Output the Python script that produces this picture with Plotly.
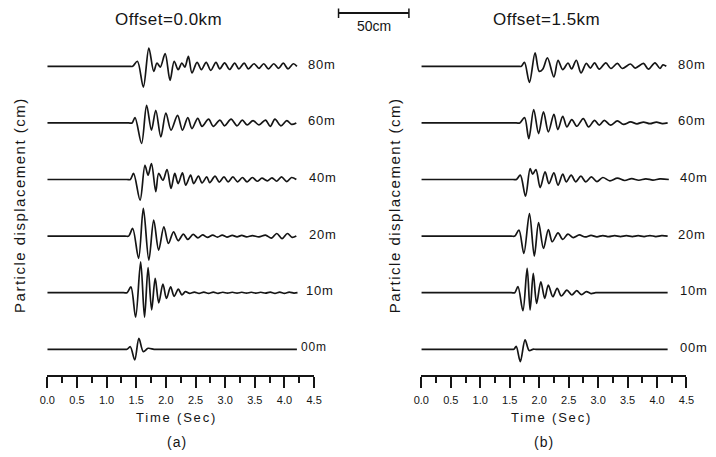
import plotly.graph_objects as go

# ---------------- data ----------------
depths = ["80m", "60m", "40m", "20m", "10m", "00m"]

# Panel (a): Offset = 0.0 km  -- times (s) and displacement (cm) of the wiggles
a_80_t = [0, 1.38, 1.44, 1.52, 1.62, 1.713, 1.795, 1.85, 1.906, 1.988, 2.07, 2.14, 2.207, 2.27, 2.32, 2.38, 2.44, 2.526, 2.60, 2.68, 2.757,
          2.845, 2.91, 2.99, 3.075, 3.16, 3.23, 3.32, 3.39, 3.487, 3.57, 3.65, 3.73, 3.82, 3.90, 3.98, 4.06, 4.15, 4.21]
a_80_v = [0, 0, 0, 3.5, -14.4, 12.7, -3.5, 2.3, -0.5, 8.8, -9.7, 3.5, -2.3, 2.3, -0.5, 6.9, -4.6, 2.8, -2.3, 2.8, -2.8,
          2.8, -1.8, 2.4, -2.2, 2.2, -1.8, 2.2, -1.8, 1.8, -1.4, 1.8, -1.8, 1.8, -1.4, 2.2, -1.8, 1.8, 0]
a_60_t = [0, 1.37, 1.43, 1.48, 1.59, 1.675, 1.757, 1.83, 1.915, 2.0, 2.087, 2.197, 2.28, 2.37, 2.44, 2.537, 2.61, 2.72, 2.80, 2.91, 2.99,
          3.10, 3.20, 3.29, 3.37, 3.47, 3.57, 3.68, 3.76, 3.84, 3.94, 4.04, 4.12, 4.2]
a_60_v = [0, 0, 0, 3.7, -14.3, 12.2, -5.0, 8.8, -9.7, 6.9, -5.0, 5.3, -5.0, 3.7, -3.9, 3.2, -2.4, 2.6, -2.4, 2.0, -2.0,
          2.6, -2.0, 2.0, -1.4, 1.6, -1.4, 2.0, -2.4, 2.6, -2.0, 1.6, -1.0, 0]
a_40_t = [0, 1.34, 1.40, 1.455, 1.565, 1.647, 1.70, 1.757, 1.83, 1.878, 1.95, 2.02, 2.087, 2.15, 2.207, 2.28, 2.335, 2.417, 2.47, 2.55, 2.61,
          2.69, 2.74, 2.83, 2.90, 2.98, 3.05, 3.13, 3.21, 3.29, 3.37, 3.46, 3.54, 3.62, 3.71, 3.79, 3.87, 3.95, 4.04, 4.12, 4.2]
a_40_v = [0, 0, 0, 4.2, -14.3, 9.9, 3.0, 11.1, -8.5, 4.2, -0.5, 6.9, -6.2, 4.2, -2.8, 4.6, -3.9, 3.0, -2.8, 2.3, -2.3,
          1.8, -2.1, 2.3, -1.8, 1.8, -1.6, 1.8, -1.6, 1.4, -1.6, 1.4, -1.2, 0.9, -0.9, 1.2, -1.2, 1.8, -1.4, 1.4, 0]
a_20_t = [0, 1.31, 1.373, 1.44, 1.54, 1.62, 1.713, 1.795, 1.878, 1.966, 2.043, 2.13, 2.207, 2.295, 2.37, 2.46, 2.54, 2.62, 2.70, 2.79, 2.87,
          2.95, 3.03, 3.12, 3.20, 3.28, 3.36, 3.46, 3.57, 3.68, 3.78, 3.87, 3.96, 4.05, 4.13, 4.2]
a_20_v = [0, 0, 0, 5.3, -15.4, 19.2, -16.7, 11.1, -9.7, 6.5, -5.1, 3.0, -3.2, 1.4, -2.3, 1.2, -1.2, 0.9, -0.9, 0.7, -0.7,
          0.7, -0.7, 0.5, -0.5, 0.5, -0.5, 0.3, -0.5, 0.7, -1.4, 1.8, -1.8, 1.8, -0.9, 0]
a_10_t = [0, 1.285, 1.345, 1.41, 1.49, 1.575, 1.64, 1.70, 1.76, 1.82, 1.88, 1.95, 2.01, 2.08, 2.14, 2.21, 2.27, 2.33, 2.40, 2.48, 2.56,
          2.64, 2.72, 2.80, 2.88, 2.96, 3.04, 3.12, 3.20, 3.28, 3.36, 3.44, 3.52, 3.60, 3.68, 3.76, 3.84, 3.92, 4.00, 4.08, 4.16, 4.22]
a_10_v = [0, 0, 0, 4.0, -17.0, 21.5, -17.0, 17.5, -12.0, 10.0, -7.0, 6.0, -4.0, 4.0, -2.5, 2.5, -1.5, 0.7, -0.5, 0.4, -0.4,
          0.4, -0.4, 0.4, -0.4, 0.3, -0.3, 0.3, -0.3, 0.3, -0.3, 0.3, -0.3, 0.3, -0.3, 0.4, -0.4, 0.4, -0.4, 0.4, -0.3, 0]
a_00_t = [0, 1.285, 1.345, 1.40, 1.475, 1.545, 1.62, 1.70, 1.80, 1.87, 4.21]
a_00_v = [0, 0, 0, 1.8, -7.4, 7.6, -1.6, 0.7, 0, 0, 0]

# Panel (b): Offset = 1.5 km
b_80_t = [0, 1.64, 1.697, 1.75, 1.835, 1.93, 2.0, 2.06, 2.14, 2.25, 2.32, 2.40, 2.49, 2.55, 2.63, 2.71, 2.80, 2.87, 2.94, 3.02, 3.13,
          3.216, 3.327, 3.41, 3.55, 3.63, 3.77, 3.854, 3.965, 4.05, 4.1, 4.157]
b_80_v = [0, 0, 0, 2.8, -11.1, 9.3, -3.5, -2.0, 5.8, -7.4, 4.2, -2.3, 2.3, -1.8, 4.2, -4.6, 2.0, -1.2, 2.4, -2.0, 2.4,
          -1.5, 2.0, -1.5, 1.6, -1.2, 2.0, -2.0, 2.4, -1.5, 1.0, 0]
b_60_t = [0, 1.61, 1.67, 1.752, 1.824, 1.907, 1.99, 2.073, 2.156, 2.25, 2.317, 2.40, 2.47, 2.554, 2.64, 2.748, 2.84, 2.94, 3.02, 3.106, 3.21,
          3.327, 3.43, 3.55, 3.66, 3.77, 3.88, 3.99, 4.09, 4.18]
b_60_v = [0, 0, 0, 3.7, -10.9, 9.3, -7.4, 7.6, -6.2, 6.0, -4.6, 4.6, -2.8, 2.3, -2.3, 3.0, -2.8, 1.8, -1.6, 1.8, -1.6,
          1.4, -1.0, 0.7, -0.6, 0.6, -0.5, 0.6, -0.5, 0]
b_40_t = [0, 1.555, 1.614, 1.68, 1.768, 1.846, 1.89, 1.945, 2.017, 2.10, 2.166, 2.25, 2.32, 2.40, 2.46, 2.543, 2.62, 2.708, 2.79, 2.886, 2.98,
          3.08, 3.20, 3.327, 3.45, 3.57, 3.69, 3.81, 3.93, 4.05, 4.2]
b_40_v = [0, 0, 0, 3.0, -11.6, 7.6, 3.7, 6.9, -5.6, 5.3, -2.8, 4.6, -3.9, 3.7, -1.6, 3.0, -1.6, 2.3, -1.6, 1.8, -1.4,
          1.4, -0.9, 1.0, -0.7, 0.6, -0.5, 0.5, -0.4, 0.4, 0]
b_20_t = [0, 1.525, 1.586, 1.657, 1.74, 1.835, 1.917, 1.99, 2.073, 2.156, 2.222, 2.32, 2.40, 2.487, 2.58, 2.68, 2.78, 2.88, 2.98, 3.08, 3.18,
          3.28, 3.38, 3.48, 3.58, 3.68, 3.78, 3.88, 3.98, 4.08, 4.18]
b_20_v = [0, 0, 0, 4.2, -12.0, 15.7, -13.9, 9.3, -8.6, 4.6, -3.9, 2.3, -2.3, 1.4, -1.0, 0.8, -0.6, 0.5, -0.5, 0.4, -0.4,
          0.3, -0.3, 0.3, -0.3, 0.3, -0.3, 0.4, -0.3, 0.3, 0]
b_10_t = [0, 1.525, 1.586, 1.64, 1.724, 1.796, 1.846, 1.90, 1.956, 2.028, 2.094, 2.155, 2.232, 2.305, 2.376, 2.47, 2.554, 2.636, 2.72, 2.80, 2.88,
          2.96, 3.03, 4.18]
b_10_v = [0, 0, 0, 4.2, -12.5, 16.9, -12.0, 13.4, -7.4, 7.6, -3.9, 5.3, -2.8, 3.0, -2.3, 1.8, -1.6, 1.4, -1.4, 0.8, -0.6,
          0, 0, 0]
b_00_t = [0, 1.51, 1.57, 1.61, 1.68, 1.76, 1.83, 1.89, 1.95, 4.18]
b_00_v = [0, 0, 0, 2.0, -8.6, 6.5, -0.9, 0, 0, 0]

panel_a = {"80m": (a_80_t, a_80_v), "60m": (a_60_t, a_60_v), "40m": (a_40_t, a_40_v),
           "20m": (a_20_t, a_20_v), "10m": (a_10_t, a_10_v), "00m": (a_00_t, a_00_v)}
panel_b = {"80m": (b_80_t, b_80_v), "60m": (b_60_t, b_60_v), "40m": (b_40_t, b_40_v),
           "20m": (b_20_t, b_20_v), "10m": (b_10_t, b_10_v), "00m": (b_00_t, b_00_v)}

titles = ["Offset=0.0km", "Offset=1.5km"]
panel_tags = ["(a)", "(b)"]
tick_vals = [0.0, 0.5, 1.0, 1.5, 2.0, 2.5, 3.0, 3.5, 4.0, 4.5]
tick_text = ["0.0", "0.5", "1.0", "1.5", "2.0", "2.5", "3.0", "3.5", "4.0", "4.5"]

# ---------------- layout / style ----------------
PAGE_MARGIN = 8                    # default body margin of the html page
W, H = 716 - PAGE_MARGIN, 457 - PAGE_MARGIN
SPACING = 39.3                     # vertical distance between trace baselines (y units)
INK = "#151515"
FONT = "Liberation Sans, Arial, Helvetica, sans-serif"


def px(x):
    """window pixel x -> paper fraction"""
    return (x - PAGE_MARGIN) / W


def py(y):
    """window pixel y -> paper fraction"""
    return 1 - (y - PAGE_MARGIN) / H


def spaced(text, sp):
    return '<span style="letter-spacing:%spx">%s</span>' % (sp, text)


fig = go.Figure()

for panel, xa, ya in ((panel_a, "x", "y"), (panel_b, "x2", "y2")):
    for k, d in enumerate(depths):
        off = (len(depths) - 1 - k) * SPACING
        t, v = panel[d]
        fig.add_trace(go.Scatter(
            x=t, y=[off + a for a in v], mode="lines",
            line=dict(color=INK, width=1.7, shape="spline", smoothing=0.9),
            xaxis=xa, yaxis=ya, showlegend=False, hoverinfo="skip"))

xcommon = dict(
    range=[0, 4.5], showgrid=False, zeroline=False, showline=True,
    linecolor=INK, linewidth=2, ticks="outside", ticklen=11, tickwidth=1.5,
    tickcolor=INK, tickvals=tick_vals, ticktext=tick_text,
    tickfont=dict(family=FONT, size=11, color=INK), ticklabelstandoff=3,
    minor=dict(ticks="outside", ticklen=6, tickwidth=1.5, tickcolor=INK, dtick=0.25, tick0=0),
    fixedrange=True,
)
ycommon = dict(range=[-17.85, 237.0], visible=False, fixedrange=True, domain=[py(375), 1])

fig.update_layout(
    width=W, height=H, margin=dict(l=0, r=0, t=0, b=0),
    paper_bgcolor="white", plot_bgcolor="white",
    xaxis=dict(domain=[px(40), px(313)], anchor="y", **xcommon),
    xaxis2=dict(domain=[px(422.7), px(694)], anchor="y2", **xcommon),
    yaxis=dict(anchor="x", **ycommon),
    yaxis2=dict(anchor="x2", **ycommon),
)

ann = []
# depth labels
label_x_a = {"80m": 4.37, "60m": 4.37, "40m": 4.38, "20m": 4.38, "10m": 4.33, "00m": 4.25}
label_x_b = {"80m": 4.32, "60m": 4.32, "40m": 4.36, "20m": 4.33, "10m": 4.35, "00m": 4.35}
for k, d in enumerate(depths):
    off = (len(depths) - 1 - k) * SPACING
    ann.append(dict(x=label_x_a[d], y=off, xref="x", yref="y", text=spaced(d, 0.8),
                    showarrow=False, xanchor="left", yanchor="middle", yshift=2,
                    font=dict(family=FONT, size=12 if d == "00m" else 13, color=INK)))
    ann.append(dict(x=label_x_b[d], y=off, xref="x2", yref="y2", text=spaced(d, 0.8),
                    showarrow=False, xanchor="left", yanchor="middle", yshift=2,
                    font=dict(family=FONT, size=13, color=INK)))

# titles
for txt, cx in zip(titles, (164, 551)):
    ann.append(dict(x=px(cx), y=py(20), xref="paper", yref="paper", text=spaced(txt, 0.5),
                    showarrow=False, xanchor="center", yanchor="middle",
                    font=dict(family=FONT, size=17, color=INK)))
# x titles and panel tags
for cx, tag_x, tag in ((172.5, 173, panel_tags[0]), (556, 548, panel_tags[1])):
    ann.append(dict(x=px(cx), y=py(417), xref="paper", yref="paper", text=spaced("Time (Sec)", 1.8),
                    showarrow=False, xanchor="center", yanchor="middle",
                    font=dict(family=FONT, size=13, color=INK)))
    ann.append(dict(x=px(tag_x), y=py(442), xref="paper", yref="paper", text=spaced(tag, 1),
                    showarrow=False, xanchor="center", yanchor="middle",
                    font=dict(family=FONT, size=14, color=INK)))
# y titles
for cx in (11, 395):
    ann.append(dict(x=px(cx), y=py(205), xref="paper", yref="paper",
                    text=spaced("Particle displacement (cm)", 1.5), textangle=-90,
                    showarrow=False, xanchor="center", yanchor="middle",
                    font=dict(family=FONT, size=15, color=INK)))
# scale bar label
ann.append(dict(x=px(374), y=py(26), xref="paper", yref="paper", text="50cm",
                showarrow=False, xanchor="center", yanchor="middle",
                font=dict(family=FONT, size=14, color=INK)))

shapes = [
    dict(type="line", xref="paper", yref="paper", x0=px(338), x1=px(410), y0=py(13), y1=py(13),
         line=dict(color=INK, width=2)),
    dict(type="line", xref="paper", yref="paper", x0=px(338), x1=px(338), y0=py(8.5), y1=py(18),
         line=dict(color=INK, width=1.5)),
    dict(type="line", xref="paper", yref="paper", x0=px(410), x1=px(410), y0=py(8.5), y1=py(18),
         line=dict(color=INK, width=1.5)),
]

fig.update_layout(annotations=ann, shapes=shapes)
fig.write_html("out.html")
